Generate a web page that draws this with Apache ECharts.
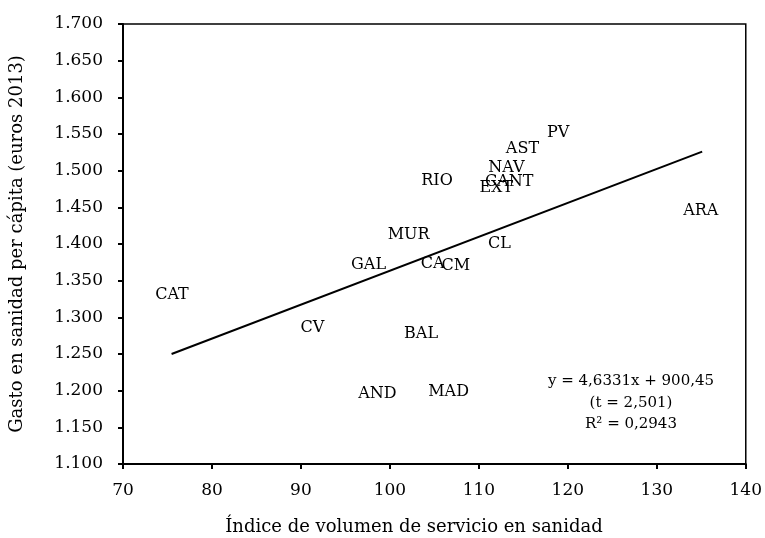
<!DOCTYPE html>
<html><head><meta charset="utf-8">
<script src="https://cdn.jsdelivr.net/npm/echarts@6/dist/echarts.min.js"></script>
<style>html,body{margin:0;padding:0;background:#fff}#c{width:765px;height:538px}</style>
</head><body><div id="c"></div>
<script>
const regions = ['AND','ARA','AST','BAL','CA','CANT','CL','CM','CAT','CV','EXT','GAL','MAD','MUR','NAV','PV','RIO'];
const serviceIndex = [98.6,134.95,114.9,103.5,104.8,113.4,112.3,107.4,75.5,91.3,111.96,97.6,106.6,102.1,113.1,118.9,105.3];
const spending = [1196,1445,1530,1277,1373,1485,1400,1370,1330,1285,1476,1371,1199,1412,1504,1551,1486];
const trendX = [75.46,135.1];
const trendY = [1250,1526];
const xTicks = [70,80,90,100,110,120,130,140];
const yTicks = [1100,1150,1200,1250,1300,1350,1400,1450,1500,1550,1600,1650,1700];
const eqLines = ['y = 4,6331x + 900,45','(t = 2,501)','R² = 0,2943'];

const F = '"DejaVu Serif", "Liberation Serif", serif';
const fmtY = v => (v/1000).toFixed(3);
const chart = echarts.init(document.getElementById('c'));
chart.setOption({
  animation:false,
  backgroundColor:'#fff',
  grid:{left:121,right:18,top:24,bottom:74,show:true,borderColor:'#000',borderWidth:1.5,backgroundColor:'transparent'},
  xAxis:{type:'value',min:xTicks[0],max:xTicks[xTicks.length-1],interval:10,
    axisLine:{show:true,lineStyle:{color:'#000',width:2}},
    axisTick:{show:true,inside:false,length:5,lineStyle:{color:'#000',width:2}},
    axisLabel:{color:'#000',fontFamily:F,fontSize:17,margin:18},
    splitLine:{show:false}},
  yAxis:{type:'value',min:yTicks[0],max:yTicks[yTicks.length-1],interval:50,
    name:'Gasto en sanidad per cápita (euros 2013)',nameLocation:'middle',nameGap:97,nameRotate:90,
    nameTextStyle:{color:'#000',fontFamily:F,fontSize:18},
    axisLine:{show:true,lineStyle:{color:'#000',width:2}},
    axisTick:{show:true,inside:false,length:5,lineStyle:{color:'#000',width:2}},
    axisLabel:{color:'#000',fontFamily:F,fontSize:17,margin:20,formatter:fmtY},
    splitLine:{show:false}},
  series:[
    {type:'line',data:trendX.map((x,i)=>[x,trendY[i]]),symbol:'none',lineStyle:{color:'#000',width:2},z:2},
    {type:'scatter',data:serviceIndex.map((x,i)=>[x,spending[i],regions[i]]),symbolSize:0,
      itemStyle:{color:'#000',opacity:1},
      label:{show:true,position:'inside',formatter:p=>p.data[2],color:'#000',opacity:1,textBorderWidth:0,fontFamily:F,fontSize:16},
      emphasis:{disabled:true},z:3}
  ],
  graphic:[
    {type:'text',x:414,y:527,style:{text:'Índice de volumen de servicio en sanidad',fill:'#000',font:'18px '+F,textAlign:'center',textVerticalAlign:'middle'}},
    {type:'text',x:631,y:403,style:{text:eqLines.join('\n'),fill:'#000',font:'15px '+F,textAlign:'center',textVerticalAlign:'middle',lineHeight:21.5}}
  ]
});
</script></body></html>
